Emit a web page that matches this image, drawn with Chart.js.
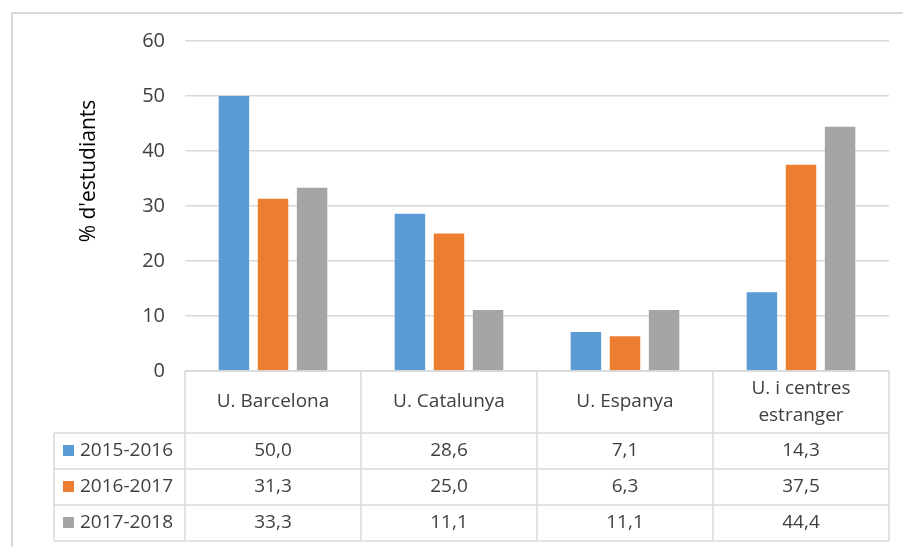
<!DOCTYPE html>
<html lang="ca">
<head>
  <meta charset="UTF-8" />
  <title>Destinació dels estudiants</title>
  <script src="https://cdnjs.cloudflare.com/ajax/libs/Chart.js/4.4.1/chart.umd.js"></script>
  <style>
    body { margin: 0; background: #fff; }
    canvas { display: block; }
  </style>
</head>
<body>
  <canvas id="chart" width="903" height="547"></canvas>

  <script>
    const categories = ['U. Barcelona', 'U. Catalunya', 'U. Espanya', ['U. i centres', 'estranger']];
    const seriesNames = ['2015-2016', '2016-2017', '2017-2018'];
    const values2015 = [50.0, 28.6, 7.1, 14.3];
    const values2016 = [31.3, 25.0, 6.3, 37.5];
    const values2017 = [33.3, 11.1, 11.1, 44.4];
    const yTicks = [0, 10, 20, 30, 40, 50, 60];
    const colors = ['#5B9BD5', '#ED7D31', '#A5A5A5'];

    const FONT = "'Open Sans', sans-serif";
    const TEXT = '#404040';
    const LINE = '#d9d9d9';

    // data table under the plot, drawn from the x scale
    const dataTable = {
      id: 'dataTable',
      afterDraw(chart) {
        const ctx = chart.ctx;
        const x = chart.scales.x;
        const area = chart.chartArea;
        const left = area.left, right = area.right;
        const top = area.bottom;
        const headH = 62, rowH = 36;
        const legendLeft = 54;
        const n = categories.length;
        const cw = (right - left) / n;
        const rows = [values2015, values2016, values2017];

        ctx.save();
        ctx.strokeStyle = LINE;
        ctx.lineWidth = 1.5;
        ctx.beginPath();
        // header top and verticals
        ctx.moveTo(left, top); ctx.lineTo(right, top);
        const bottom = top + headH + rowH * rows.length;
        for (let i = 0; i <= n; i++) {
          const vx = left + i * cw;
          ctx.moveTo(vx, top); ctx.lineTo(vx, bottom);
        }
        // row lines
        for (let r = 0; r <= rows.length; r++) {
          const yy = top + headH + r * rowH;
          ctx.moveTo(legendLeft, yy); ctx.lineTo(right, yy);
        }
        ctx.moveTo(legendLeft, top + headH); ctx.lineTo(legendLeft, bottom);
        ctx.stroke();

        ctx.fillStyle = TEXT;
        ctx.font = '19px ' + FONT;
        ctx.textAlign = 'center';
        ctx.textBaseline = 'middle';
        categories.forEach((c, i) => {
          const cx = x.getPixelForValue(i);
          const lines = Array.isArray(c) ? c : [c];
          const cy = top + headH / 2;
          lines.forEach((l, k) => {
            ctx.fillText(l, cx, cy + (k - (lines.length - 1) / 2) * 27);
          });
        });

        rows.forEach((vals, r) => {
          const cy = top + headH + r * rowH + rowH / 2;
          vals.forEach((v, i) => {
            ctx.fillStyle = TEXT;
            ctx.textAlign = 'center';
            ctx.fillText(v.toFixed(1).replace('.', ','), x.getPixelForValue(i), cy);
          });
          ctx.fillStyle = colors[r];
          ctx.fillRect(63, cy - 6, 11, 11);
          ctx.fillStyle = TEXT;
          ctx.textAlign = 'left';
          ctx.fillText(seriesNames[r], 80, cy);
        });

        // y axis title
        ctx.save();
        ctx.translate(89, 171);
        ctx.rotate(-Math.PI / 2);
        ctx.textAlign = 'center';
        ctx.font = '21px ' + FONT;
        ctx.fillStyle = '#000';
        ctx.fillText("% d'estudiants", 0, 0);
        ctx.restore();

        // outer frame
        ctx.strokeStyle = LINE;
        ctx.lineWidth = 2;
        ctx.beginPath();
        ctx.moveTo(12, 547); ctx.lineTo(12, 13); ctx.lineTo(903, 13);
        ctx.stroke();
        ctx.restore();
      }
    };

    new Chart(document.getElementById('chart'), {
      type: 'bar',
      data: {
        labels: categories,
        datasets: [values2015, values2016, values2017].map((d, i) => ({
          label: seriesNames[i],
          data: d,
          backgroundColor: colors[i],
          categoryPercentage: 0.666,
          barPercentage: 0.78,
        }))
      },
      options: {
        responsive: false,
        animation: false,
        layout: { padding: { left: 0, right: 14, top: 41, bottom: 6 } },
        plugins: {
          legend: { display: false },
          tooltip: { enabled: false }
        },
        scales: {
          x: {
            ticks: { display: false },
            grid: { display: false },
            border: { display: false },
            afterFit: s => { s.height = 170; }
          },
          y: {
            min: 0,
            max: 60,
            afterFit: s => { s.width = 185; },
            afterBuildTicks: s => { s.ticks = yTicks.map(v => ({ value: v })); },
            ticks: {
              padding: 20,
              color: TEXT,
              font: { family: FONT, size: 20 }
            },
            grid: { color: LINE, lineWidth: 1.5, drawTicks: false },
            border: { display: false }
          }
        }
      },
      plugins: [dataTable]
    });
  </script>
</body>
</html>
